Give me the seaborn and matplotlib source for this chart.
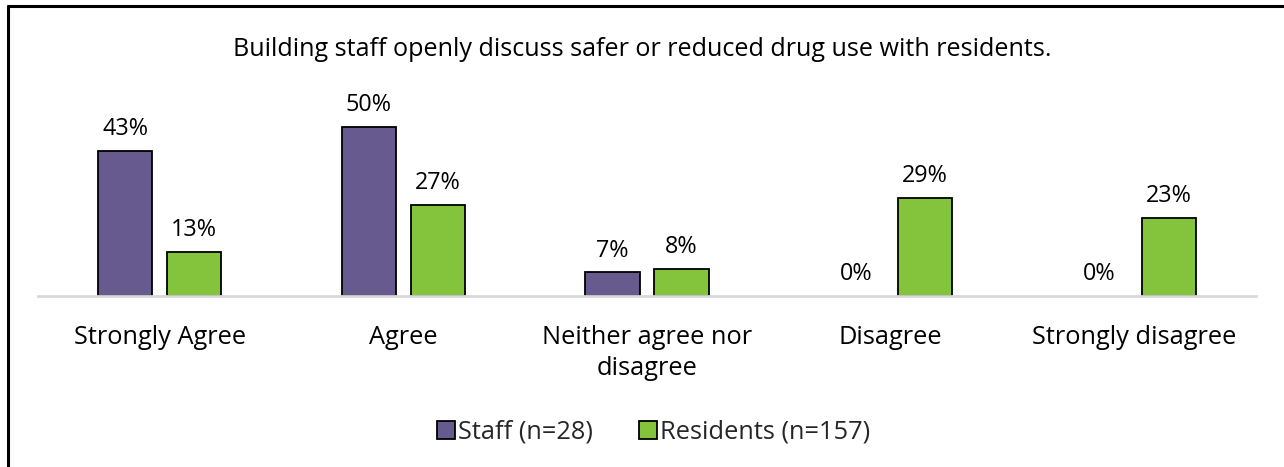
import matplotlib
matplotlib.use("Agg")
import matplotlib.pyplot as plt
import seaborn as sns
import pandas as pd
from matplotlib.lines import Line2D
from matplotlib.patches import Patch

categories = ["Strongly Agree", "Agree", "Neither agree nor\ndisagree", "Disagree", "Strongly disagree"]
staff = [43, 50, 7, 0, 0]
residents = [13, 27, 8, 29, 23]
series = ["Staff (n=28)", "Residents (n=157)"]
colors = ["#675A8F", "#84C43C"]
title = "Building staff openly discuss safer or reduced drug use with residents."

sns.set_theme(style="white")
plt.rcParams['font.family'] = ['Open Sans', 'DejaVu Sans']

df = pd.DataFrame({
    "cat": categories * 2,
    "val": staff + residents,
    "series": [series[0]] * 5 + [series[1]] * 5,
})

W, H = 1284, 467
fig = plt.figure(figsize=(W / 100, H / 100), dpi=100)
ax = fig.add_axes([38 / W, 1 - 296 / H, (1256 - 38) / W, (296 - 93) / H])

sns.barplot(data=df, x="cat", y="val", hue="series", palette=colors, saturation=1,
            width=0.567, gap=0.217, edgecolor="black", linewidth=1.3, ax=ax, legend=False,
            order=categories, hue_order=series)

for p in ax.patches:
    if p.get_height() == 0:
        p.set_linewidth(0)

ax.set_ylim(0, 60)
ax.set_xlim(-0.5, 4.5)
ax.set_xlabel("")
ax.set_ylabel("")
ax.set_yticks([])
for s in ["top", "right", "left"]:
    ax.spines[s].set_visible(False)
ax.spines["bottom"].set_color("#D9D9D9")
ax.spines["bottom"].set_linewidth(2)
ax.tick_params(axis="x", length=0, pad=21, labelsize=18.3, colors="black")
for lbl in ax.get_xticklabels():
    lbl.set_linespacing(1.3)

for cont in ax.containers:
    ax.bar_label(cont, labels=[f"{v:.0f}%" for v in cont.datavalues], padding=7, fontsize=16.8, color="black")

fig.text(0.5, 1 - 49 / H, title, ha="center", va="center", fontsize=18.1, color="black")

handles = [Patch(facecolor=c, edgecolor="black", linewidth=1.3) for c in colors]
fig.legend(handles, series, loc="center", bbox_to_anchor=(0.509, 1 - 432 / H), ncol=2, frameon=False,
           fontsize=18.3, handlelength=0.7, handleheight=0.7, handletextpad=0.12, columnspacing=1.8)

fig.add_artist(Line2D([8 / W, 1], [1 - 6 / H, 1 - 6 / H], transform=fig.transFigure, color="black", linewidth=2.2))
fig.add_artist(Line2D([8 / W, 8 / W], [0, 1 - 6 / H], transform=fig.transFigure, color="black", linewidth=2.2))

fig.savefig("out.png", dpi=100, facecolor="white")
